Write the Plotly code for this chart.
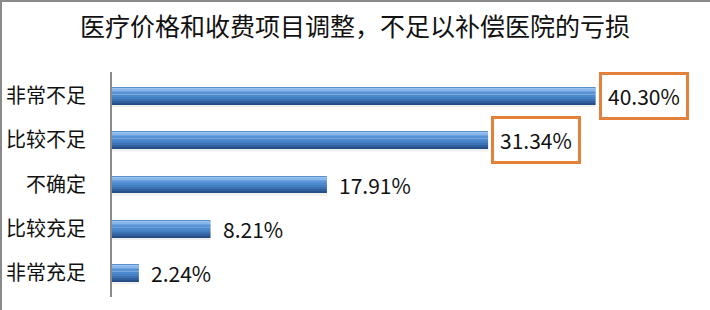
import plotly.graph_objects as go

# Survey: is the adjustment of medical prices and fee items enough to cover hospital losses?
categories = ["非常不足", "比较不足", "不确定", "比较充足", "非常充足"]
shares = [40.30, 31.34, 17.91, 8.21, 2.24]
highlighted = [True, True, False, False, False]
title_text = "医疗价格和收费项目调整，不足以补偿医院的亏损"

W, H = 710, 310
M_L, M_R, M_T, M_B = 112, 0, 72, 13
PX_PER_UNIT = 12.0
x_max = (W - M_L - M_R) / PX_PER_UNIT
ROW_PX = (H - M_T - M_B) / len(categories)
BAR_PX = 17

FONT = "Noto Sans CJK SC, Noto Sans, sans-serif"

fig = go.Figure()

# horizontal colour bands (top to bottom, in pixels of the bar) to shade each bar
bands = [
    (0, 1, "#5a8fcc"), (1, 2, "#9cc4ef"), (2, 4, "#86b6ea"), (4, 5, "#6ea3e0"),
    (5, 7, "#5893d6"), (7, 10, "#4d89cd"), (10, 12, "#4680c4"),
    (12, 14, "#3c72b4"), (14, 16, "#30619e"), (16, 17, "#27508a"),
    (17, 20, "rgba(0,0,0,0.06)"),
]
for start, end, color in bands:
    fig.add_trace(go.Bar(
        y=categories, x=shares, orientation="h",
        offset=(start - BAR_PX / 2) / ROW_PX, width=(end - start) / ROW_PX,
        marker=dict(color=color, line=dict(width=0)),
        hoverinfo="skip", showlegend=False,
    ))

# value labels; the two largest shares sit in orange frames
for cat, val, hl in zip(categories, shares, highlighted):
    fig.add_annotation(
        x=val, y=cat, xref="x", yref="y",
        text=f"{val:.2f}%", showarrow=False,
        xanchor="left", yanchor="middle", xshift=3,
        font=dict(family=FONT, size=21, color="#111111"),
        bordercolor="#e3803a" if hl else "rgba(0,0,0,0)",
        borderwidth=3, borderpad=6, bgcolor="white" if hl else "rgba(0,0,0,0)",
    )

plot_w = W - M_L - M_R
plot_h = H - M_T - M_B
# thin grey frame along the top and left edge of the picture
fig.add_shape(type="line", xref="paper", yref="paper",
              x0=-M_L / plot_w, x1=1 + M_R / plot_w,
              y0=1 + (M_T - 1) / plot_h, y1=1 + (M_T - 1) / plot_h,
              line=dict(color="#8a8a8a", width=2))
fig.add_shape(type="line", xref="paper", yref="paper",
              x0=-(M_L - 1) / plot_w, x1=-(M_L - 1) / plot_w,
              y0=-M_B / plot_h, y1=1 + M_T / plot_h,
              line=dict(color="#8a8a8a", width=2))

fig.update_layout(
    width=W, height=H,
    margin=dict(l=M_L, r=M_R, t=M_T, b=M_B),
    paper_bgcolor="white", plot_bgcolor="white",
    barmode="overlay",
    title=dict(text=title_text, x=0.5, xref="container", xanchor="center",
               y=1 - 27 / H, yref="container", yanchor="middle",
               font=dict(family=FONT, size=25, color="#111111")),
    xaxis=dict(range=[0, x_max], visible=False, fixedrange=True),
    yaxis=dict(categoryorder="array", categoryarray=categories,
               autorange="reversed", showline=True, linecolor="#8a8a8a",
               linewidth=2, ticks="", showgrid=False, zeroline=False,
               ticklabelstandoff=20,
               tickfont=dict(family=FONT, size=20, color="#111111")),
)

fig.write_html("out.html")
